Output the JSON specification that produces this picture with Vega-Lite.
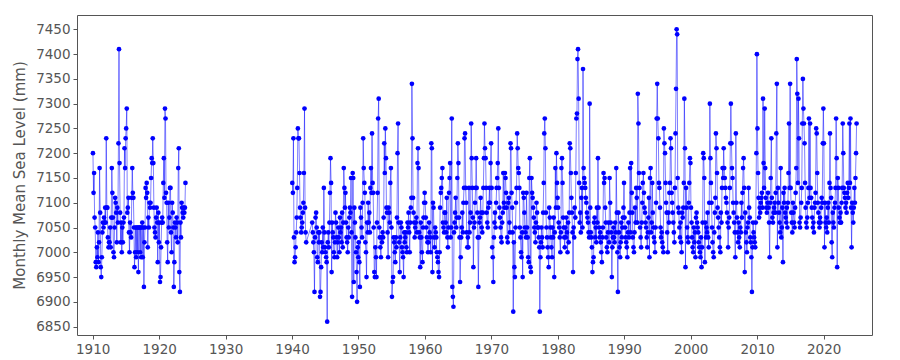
{
"$schema": "https://vega.github.io/schema/vega-lite/v6.json",
"width": 795,
"height": 320,
"autosize": {"type": "none"},
"padding": {"left": 77, "top": 15, "right": 28, "bottom": 25},
"background": "white",
"config": {"view": {"stroke": "#555555", "strokeWidth": 1}, "font": "DejaVu Sans"},
"data": {"values": [
{"t":1910.04,"v":7200},{"t":1910.13,"v":7120},{"t":1910.21,"v":7160},{"t":1910.29,"v":7070},{"t":1910.38,"v":7050},{"t":1910.46,"v":6980},{"t":1910.54,"v":6970},{"t":1910.63,"v":7010},{"t":1910.71,"v":6990},{"t":1910.79,"v":7040},{"t":1910.88,"v":6980},{"t":1910.96,"v":7020},
{"t":1911.04,"v":7170},{"t":1911.13,"v":7080},{"t":1911.21,"v":6970},{"t":1911.29,"v":6950},{"t":1911.38,"v":6990},{"t":1911.46,"v":7040},{"t":1911.54,"v":7060},{"t":1911.63,"v":7050},{"t":1911.71,"v":7070},{"t":1911.79,"v":7060},{"t":1911.88,"v":7090},{"t":1911.96,"v":7060},
{"t":1912.04,"v":7230},{"t":1912.13,"v":7090},{"t":1912.21,"v":7090},{"t":1912.29,"v":7030},{"t":1912.38,"v":7010},{"t":1912.46,"v":7020},{"t":1912.54,"v":7020},{"t":1912.63,"v":7050},{"t":1912.71,"v":7010},{"t":1912.79,"v":7070},{"t":1912.88,"v":7170},{"t":1912.96,"v":7120},
{"t":1913.04,"v":7070},{"t":1913.13,"v":7000},{"t":1913.21,"v":6990},{"t":1913.29,"v":7050},{"t":1913.38,"v":7110},{"t":1913.46,"v":7100},{"t":1913.54,"v":7080},{"t":1913.63,"v":7020},{"t":1913.71,"v":7090},{"t":1913.79,"v":7060},{"t":1913.88,"v":7220},{"t":1913.96,"v":7410},
{"t":1914.04,"v":7180},{"t":1914.13,"v":7080},{"t":1914.21,"v":7020},{"t":1914.29,"v":7060},{"t":1914.38,"v":7000},{"t":1914.46,"v":7050},{"t":1914.54,"v":7020},{"t":1914.63,"v":7060},{"t":1914.71,"v":7070},{"t":1914.79,"v":7210},{"t":1914.88,"v":7170},{"t":1914.96,"v":7230},
{"t":1915.04,"v":7250},{"t":1915.13,"v":7290},{"t":1915.21,"v":7080},{"t":1915.29,"v":7090},{"t":1915.38,"v":7110},{"t":1915.46,"v":7040},{"t":1915.54,"v":7000},{"t":1915.63,"v":7060},{"t":1915.71,"v":7040},{"t":1915.79,"v":7030},{"t":1915.88,"v":7110},{"t":1915.96,"v":7170},
{"t":1916.04,"v":7120},{"t":1916.13,"v":7110},{"t":1916.21,"v":7050},{"t":1916.29,"v":6970},{"t":1916.38,"v":7000},{"t":1916.46,"v":7050},{"t":1916.54,"v":6990},{"t":1916.63,"v":7050},{"t":1916.71,"v":7000},{"t":1916.79,"v":7050},{"t":1916.88,"v":6960},{"t":1916.96,"v":7050},
{"t":1917.04,"v":7050},{"t":1917.13,"v":7000},{"t":1917.21,"v":7050},{"t":1917.29,"v":6990},{"t":1917.38,"v":7050},{"t":1917.46,"v":7060},{"t":1917.54,"v":6990},{"t":1917.63,"v":7050},{"t":1917.71,"v":6930},{"t":1917.79,"v":7020},{"t":1917.88,"v":7050},{"t":1917.96,"v":7130},
{"t":1918.04,"v":7110},{"t":1918.13,"v":7140},{"t":1918.21,"v":7120},{"t":1918.29,"v":7010},{"t":1918.38,"v":7070},{"t":1918.46,"v":7050},{"t":1918.54,"v":7100},{"t":1918.63,"v":7090},{"t":1918.71,"v":7100},{"t":1918.79,"v":7150},{"t":1918.88,"v":7190},{"t":1918.96,"v":7180},
{"t":1919.04,"v":7230},{"t":1919.13,"v":7180},{"t":1919.21,"v":7090},{"t":1919.29,"v":7050},{"t":1919.38,"v":7040},{"t":1919.46,"v":7030},{"t":1919.54,"v":7070},{"t":1919.63,"v":7090},{"t":1919.71,"v":7060},{"t":1919.79,"v":6980},{"t":1919.88,"v":7080},{"t":1919.96,"v":7020},
{"t":1920.04,"v":7060},{"t":1920.13,"v":6940},{"t":1920.21,"v":6950},{"t":1920.29,"v":7010},{"t":1920.38,"v":7060},{"t":1920.46,"v":7070},{"t":1920.54,"v":7060},{"t":1920.63,"v":7140},{"t":1920.71,"v":7190},{"t":1920.79,"v":7110},{"t":1920.88,"v":7290},{"t":1920.96,"v":7270},
{"t":1921.04,"v":7120},{"t":1921.13,"v":7100},{"t":1921.21,"v":7020},{"t":1921.29,"v":6980},{"t":1921.38,"v":7100},{"t":1921.46,"v":7050},{"t":1921.54,"v":7070},{"t":1921.63,"v":7130},{"t":1921.71,"v":7130},{"t":1921.79,"v":7040},{"t":1921.88,"v":7000},{"t":1921.96,"v":7100},
{"t":1922.04,"v":7080},{"t":1922.13,"v":7050},{"t":1922.21,"v":6930},{"t":1922.29,"v":6980},{"t":1922.38,"v":7060},{"t":1922.46,"v":7050},{"t":1922.54,"v":7030},{"t":1922.63,"v":7070},{"t":1922.71,"v":7060},{"t":1922.79,"v":7020},{"t":1922.88,"v":7170},{"t":1922.96,"v":7210},
{"t":1923.04,"v":6960},{"t":1923.13,"v":6920},{"t":1923.21,"v":7060},{"t":1923.29,"v":7030},{"t":1923.38,"v":7100},{"t":1923.46,"v":7090},{"t":1923.54,"v":7080},{"t":1923.63,"v":7070},{"t":1923.71,"v":7090},{"t":1923.79,"v":7080},{"t":1923.88,"v":7090},{"t":1923.96,"v":7140},
{"t":1940.04,"v":7140},{"t":1940.13,"v":7120},{"t":1940.21,"v":7230},{"t":1940.29,"v":7030},{"t":1940.38,"v":6980},{"t":1940.46,"v":6990},{"t":1940.54,"v":7010},{"t":1940.63,"v":7040},{"t":1940.71,"v":7070},{"t":1940.79,"v":7130},{"t":1940.88,"v":7250},{"t":1940.96,"v":7230},
{"t":1941.04,"v":7230},{"t":1941.13,"v":7160},{"t":1941.21,"v":7090},{"t":1941.29,"v":7070},{"t":1941.38,"v":7040},{"t":1941.46,"v":7050},{"t":1941.54,"v":7060},{"t":1941.63,"v":7080},{"t":1941.71,"v":7100},{"t":1941.79,"v":7160},{"t":1941.88,"v":7290},{"t":1941.96,"v":7090},
{"t":1942.04,"v":7040},{"t":1942.13,"v":7020},
{"t":1943.04,"v":7060},{"t":1943.13,"v":7040},{"t":1943.21,"v":7020},{"t":1943.29,"v":7000},{"t":1943.38,"v":6920},{"t":1943.46,"v":7030},{"t":1943.54,"v":7070},{"t":1943.63,"v":7080},{"t":1943.71,"v":7050},{"t":1943.79,"v":6990},{"t":1943.88,"v":6980},{"t":1943.96,"v":7040},
{"t":1944.04,"v":7020},{"t":1944.13,"v":7040},{"t":1944.21,"v":6910},{"t":1944.29,"v":6920},{"t":1944.38,"v":6970},{"t":1944.46,"v":7020},{"t":1944.54,"v":7000},{"t":1944.63,"v":7050},{"t":1944.71,"v":7010},{"t":1944.79,"v":7130},{"t":1944.88,"v":7040},{"t":1944.96,"v":7010},
{"t":1945.04,"v":7000},{"t":1945.13,"v":6990},{"t":1945.21,"v":6980},{"t":1945.29,"v":6860},{"t":1945.38,"v":7020},{"t":1945.46,"v":7040},{"t":1945.54,"v":7010},{"t":1945.63,"v":7060},{"t":1945.71,"v":7120},{"t":1945.79,"v":7190},{"t":1945.88,"v":7140},{"t":1945.96,"v":6960},
{"t":1946.04,"v":7060},{"t":1946.13,"v":7040},{"t":1946.21,"v":7030},{"t":1946.29,"v":7000},{"t":1946.38,"v":6990},{"t":1946.46,"v":7020},{"t":1946.54,"v":7080},{"t":1946.63,"v":7060},{"t":1946.71,"v":7030},{"t":1946.79,"v":6990},{"t":1946.88,"v":7020},{"t":1946.96,"v":7050},
{"t":1947.04,"v":7030},{"t":1947.13,"v":7000},{"t":1947.21,"v":7070},{"t":1947.29,"v":7040},{"t":1947.38,"v":7050},{"t":1947.46,"v":7020},{"t":1947.54,"v":7080},{"t":1947.63,"v":7010},{"t":1947.71,"v":7060},{"t":1947.79,"v":7170},{"t":1947.88,"v":7130},{"t":1947.96,"v":7090},
{"t":1948.04,"v":7120},{"t":1948.13,"v":7060},{"t":1948.21,"v":7030},{"t":1948.29,"v":7020},{"t":1948.38,"v":7000},{"t":1948.46,"v":7050},{"t":1948.54,"v":7030},{"t":1948.63,"v":7070},{"t":1948.71,"v":7090},{"t":1948.79,"v":7080},{"t":1948.88,"v":7150},{"t":1948.96,"v":7040},
{"t":1949.04,"v":6910},{"t":1949.13,"v":7160},{"t":1949.21,"v":7150},{"t":1949.29,"v":6940},{"t":1949.38,"v":7090},{"t":1949.46,"v":7060},{"t":1949.54,"v":7030},{"t":1949.63,"v":7000},{"t":1949.71,"v":6960},{"t":1949.79,"v":6900},{"t":1949.88,"v":7010},{"t":1949.96,"v":6990},
{"t":1950.04,"v":7020},{"t":1950.13,"v":6980},{"t":1950.21,"v":6930},{"t":1950.29,"v":7090},{"t":1950.38,"v":7070},{"t":1950.46,"v":7050},{"t":1950.54,"v":7030},{"t":1950.63,"v":7100},{"t":1950.71,"v":7230},{"t":1950.79,"v":7170},{"t":1950.88,"v":7140},{"t":1950.96,"v":7120},
{"t":1951.04,"v":7020},{"t":1951.13,"v":7000},{"t":1951.21,"v":6950},{"t":1951.29,"v":7060},{"t":1951.38,"v":7040},{"t":1951.46,"v":7100},{"t":1951.54,"v":7060},{"t":1951.63,"v":7080},{"t":1951.71,"v":7040},{"t":1951.79,"v":7130},{"t":1951.88,"v":7170},{"t":1951.96,"v":7120},
{"t":1952.04,"v":7240},{"t":1952.13,"v":7140},{"t":1952.21,"v":7120},{"t":1952.29,"v":7050},{"t":1952.38,"v":6960},{"t":1952.46,"v":6950},{"t":1952.54,"v":7010},{"t":1952.63,"v":6990},{"t":1952.71,"v":6950},{"t":1952.79,"v":7060},{"t":1952.88,"v":7120},{"t":1952.96,"v":7270},
{"t":1953.04,"v":7310},{"t":1953.13,"v":7050},{"t":1953.21,"v":7030},{"t":1953.29,"v":7010},{"t":1953.38,"v":6990},{"t":1953.46,"v":7030},{"t":1953.54,"v":7020},{"t":1953.63,"v":7040},{"t":1953.71,"v":7030},{"t":1953.79,"v":7070},{"t":1953.88,"v":7220},{"t":1953.96,"v":7160},
{"t":1954.04,"v":7250},{"t":1954.13,"v":7190},{"t":1954.21,"v":7090},{"t":1954.29,"v":7080},{"t":1954.38,"v":7040},{"t":1954.46,"v":6990},{"t":1954.54,"v":7090},{"t":1954.63,"v":7080},{"t":1954.71,"v":7060},{"t":1954.79,"v":7140},{"t":1954.88,"v":7170},{"t":1954.96,"v":7050},
{"t":1955.04,"v":6910},{"t":1955.13,"v":6940},{"t":1955.21,"v":6950},{"t":1955.29,"v":7030},{"t":1955.38,"v":7020},{"t":1955.46,"v":7000},{"t":1955.54,"v":6980},{"t":1955.63,"v":7030},{"t":1955.71,"v":7010},{"t":1955.79,"v":7070},{"t":1955.88,"v":7200},{"t":1955.96,"v":7260},
{"t":1956.04,"v":7060},{"t":1956.13,"v":7020},{"t":1956.21,"v":6960},{"t":1956.29,"v":7030},{"t":1956.38,"v":7060},{"t":1956.46,"v":7050},{"t":1956.54,"v":7010},{"t":1956.63,"v":7000},{"t":1956.71,"v":6990},{"t":1956.79,"v":6950},{"t":1956.88,"v":7040},{"t":1956.96,"v":7020},
{"t":1957.04,"v":7030},{"t":1957.13,"v":7040},{"t":1957.21,"v":7010},{"t":1957.29,"v":7000},{"t":1957.38,"v":7060},{"t":1957.46,"v":7050},{"t":1957.54,"v":7080},{"t":1957.63,"v":7040},{"t":1957.71,"v":7000},{"t":1957.79,"v":7060},{"t":1957.88,"v":7090},{"t":1957.96,"v":7110},
{"t":1958.04,"v":7340},{"t":1958.13,"v":7230},{"t":1958.21,"v":7110},{"t":1958.29,"v":7080},{"t":1958.38,"v":7060},{"t":1958.46,"v":7030},{"t":1958.54,"v":7050},{"t":1958.63,"v":7060},{"t":1958.71,"v":7070},{"t":1958.79,"v":7040},{"t":1958.88,"v":7180},{"t":1958.96,"v":7210},
{"t":1959.04,"v":7170},{"t":1959.13,"v":7040},{"t":1959.21,"v":7030},{"t":1959.29,"v":6970},{"t":1959.38,"v":7060},{"t":1959.46,"v":7030},{"t":1959.54,"v":7000},{"t":1959.63,"v":6980},{"t":1959.71,"v":7050},{"t":1959.79,"v":7070},{"t":1959.88,"v":7100},{"t":1959.96,"v":7120},
{"t":1960.04,"v":7100},{"t":1960.13,"v":7070},{"t":1960.21,"v":7050},{"t":1960.29,"v":7030},{"t":1960.38,"v":7020},{"t":1960.46,"v":7000},{"t":1960.54,"v":7020},{"t":1960.63,"v":7060},{"t":1960.71,"v":7040},{"t":1960.79,"v":7030},{"t":1960.88,"v":7000},{"t":1960.96,"v":7220},
{"t":1961.04,"v":7210},{"t":1961.13,"v":6960},{"t":1961.21,"v":7100},{"t":1961.29,"v":7090},{"t":1961.38,"v":7030},{"t":1961.46,"v":7010},{"t":1961.54,"v":7050},{"t":1961.63,"v":7040},{"t":1961.71,"v":7030},{"t":1961.79,"v":7000},{"t":1961.88,"v":6990},{"t":1961.96,"v":6980},
{"t":1962.04,"v":6960},{"t":1962.13,"v":6950},{"t":1962.21,"v":7000},{"t":1962.29,"v":7090},{"t":1962.38,"v":7120},{"t":1962.46,"v":7130},{"t":1962.54,"v":7150},{"t":1962.63,"v":7170},{"t":1962.71,"v":7060},{"t":1962.79,"v":7050},{"t":1962.88,"v":7040},{"t":1962.96,"v":7080},
{"t":1963.04,"v":7080},{"t":1963.13,"v":7060},{"t":1963.21,"v":7040},{"t":1963.29,"v":7110},{"t":1963.38,"v":7030},{"t":1963.46,"v":7010},{"t":1963.54,"v":7050},{"t":1963.63,"v":7120},{"t":1963.71,"v":7150},{"t":1963.79,"v":7180},{"t":1963.88,"v":7030},{"t":1963.96,"v":7050},
{"t":1964.04,"v":7270},{"t":1964.13,"v":6930},{"t":1964.21,"v":6910},{"t":1964.29,"v":6890},{"t":1964.38,"v":7040},{"t":1964.46,"v":7060},{"t":1964.54,"v":7080},{"t":1964.63,"v":7110},{"t":1964.71,"v":7050},{"t":1964.79,"v":7070},{"t":1964.88,"v":7150},{"t":1964.96,"v":7220},
{"t":1965.04,"v":7180},{"t":1965.13,"v":7070},{"t":1965.21,"v":7030},{"t":1965.29,"v":6940},{"t":1965.38,"v":6990},{"t":1965.46,"v":7030},{"t":1965.54,"v":7050},{"t":1965.63,"v":7080},{"t":1965.71,"v":7040},{"t":1965.79,"v":7100},{"t":1965.88,"v":7130},{"t":1965.96,"v":7230},
{"t":1966.04,"v":7240},{"t":1966.13,"v":7130},{"t":1966.21,"v":7100},{"t":1966.29,"v":7040},{"t":1966.38,"v":7010},{"t":1966.46,"v":7030},{"t":1966.54,"v":7010},{"t":1966.63,"v":7130},{"t":1966.71,"v":7040},{"t":1966.79,"v":7060},{"t":1966.88,"v":7080},{"t":1966.96,"v":7260},
{"t":1967.04,"v":7190},{"t":1967.13,"v":7130},{"t":1967.21,"v":7070},{"t":1967.29,"v":6970},{"t":1967.38,"v":7050},{"t":1967.46,"v":7060},{"t":1967.54,"v":7100},{"t":1967.63,"v":7130},{"t":1967.71,"v":7190},{"t":1967.79,"v":7130},{"t":1967.88,"v":7080},{"t":1967.96,"v":7030},
{"t":1968.04,"v":6930},{"t":1968.13,"v":7030},{"t":1968.21,"v":7060},{"t":1968.29,"v":7070},{"t":1968.38,"v":7110},{"t":1968.46,"v":7080},{"t":1968.54,"v":7050},{"t":1968.63,"v":7040},{"t":1968.71,"v":7080},{"t":1968.79,"v":7130},{"t":1968.88,"v":7190},{"t":1968.96,"v":7260},
{"t":1969.04,"v":7210},{"t":1969.13,"v":7190},{"t":1969.21,"v":7130},{"t":1969.29,"v":7080},{"t":1969.38,"v":7060},{"t":1969.46,"v":7050},{"t":1969.54,"v":7090},{"t":1969.63,"v":7100},{"t":1969.71,"v":7130},{"t":1969.79,"v":7100},{"t":1969.88,"v":7180},{"t":1969.96,"v":7220},
{"t":1970.04,"v":7130},{"t":1970.13,"v":7010},{"t":1970.21,"v":6990},{"t":1970.29,"v":6940},{"t":1970.38,"v":7030},{"t":1970.46,"v":7060},{"t":1970.54,"v":7080},{"t":1970.63,"v":7050},{"t":1970.71,"v":7100},{"t":1970.79,"v":7130},{"t":1970.88,"v":7150},{"t":1970.96,"v":7180},
{"t":1971.04,"v":7250},{"t":1971.13,"v":7130},{"t":1971.21,"v":7090},{"t":1971.29,"v":7070},{"t":1971.38,"v":7050},{"t":1971.46,"v":7030},{"t":1971.54,"v":7020},{"t":1971.63,"v":7060},{"t":1971.71,"v":7080},{"t":1971.79,"v":7160},{"t":1971.88,"v":7100},{"t":1971.96,"v":7090},
{"t":1972.04,"v":7160},{"t":1972.13,"v":7150},{"t":1972.21,"v":7120},{"t":1972.29,"v":7090},{"t":1972.38,"v":7030},{"t":1972.46,"v":7020},{"t":1972.54,"v":7100},{"t":1972.63,"v":7110},{"t":1972.71,"v":7060},{"t":1972.79,"v":7040},{"t":1972.88,"v":7220},{"t":1972.96,"v":7210},
{"t":1973.04,"v":7120},{"t":1973.13,"v":7090},{"t":1973.21,"v":7040},{"t":1973.29,"v":6880},{"t":1973.38,"v":7020},{"t":1973.46,"v":6970},{"t":1973.54,"v":6950},{"t":1973.63,"v":7050},{"t":1973.71,"v":7100},{"t":1973.79,"v":7130},{"t":1973.88,"v":7240},{"t":1973.96,"v":7210},
{"t":1974.04,"v":7170},{"t":1974.13,"v":7160},{"t":1974.21,"v":7130},{"t":1974.29,"v":7050},{"t":1974.38,"v":7030},{"t":1974.46,"v":7000},{"t":1974.54,"v":6990},{"t":1974.63,"v":7040},{"t":1974.71,"v":6950},{"t":1974.79,"v":7120},{"t":1974.88,"v":7110},{"t":1974.96,"v":7080},
{"t":1975.04,"v":7050},{"t":1975.13,"v":7040},{"t":1975.21,"v":7030},{"t":1975.29,"v":7120},{"t":1975.38,"v":7050},{"t":1975.46,"v":7030},{"t":1975.54,"v":6990},{"t":1975.63,"v":6980},{"t":1975.71,"v":7150},{"t":1975.79,"v":7190},{"t":1975.88,"v":6970},{"t":1975.96,"v":6960},
{"t":1976.04,"v":7150},{"t":1976.13,"v":7120},{"t":1976.21,"v":7110},{"t":1976.29,"v":7090},{"t":1976.38,"v":7070},{"t":1976.46,"v":7050},{"t":1976.54,"v":7040},{"t":1976.63,"v":7020},{"t":1976.71,"v":7060},{"t":1976.79,"v":7100},{"t":1976.88,"v":7080},{"t":1976.96,"v":7050},
{"t":1977.04,"v":7050},{"t":1977.13,"v":7030},{"t":1977.21,"v":7010},{"t":1977.29,"v":6880},{"t":1977.38,"v":6990},{"t":1977.46,"v":7020},{"t":1977.54,"v":7050},{"t":1977.63,"v":7030},{"t":1977.71,"v":7010},{"t":1977.79,"v":7080},{"t":1977.88,"v":7140},{"t":1977.96,"v":7240},
{"t":1978.04,"v":7270},{"t":1978.13,"v":7210},{"t":1978.21,"v":7080},{"t":1978.29,"v":7050},{"t":1978.38,"v":7030},{"t":1978.46,"v":7010},{"t":1978.54,"v":6990},{"t":1978.63,"v":6970},{"t":1978.71,"v":7090},{"t":1978.79,"v":7070},{"t":1978.88,"v":7050},{"t":1978.96,"v":7030},
{"t":1979.04,"v":7010},{"t":1979.13,"v":6990},{"t":1979.21,"v":7050},{"t":1979.29,"v":7030},{"t":1979.38,"v":7070},{"t":1979.46,"v":6950},{"t":1979.54,"v":7040},{"t":1979.63,"v":7170},{"t":1979.71,"v":7090},{"t":1979.79,"v":7200},{"t":1979.88,"v":7140},{"t":1979.96,"v":7110},
{"t":1980.04,"v":7090},{"t":1980.13,"v":7060},{"t":1980.21,"v":7050},{"t":1980.29,"v":7030},{"t":1980.38,"v":7000},{"t":1980.46,"v":7040},{"t":1980.54,"v":7170},{"t":1980.63,"v":7190},{"t":1980.71,"v":7140},{"t":1980.79,"v":7070},{"t":1980.88,"v":7050},{"t":1980.96,"v":7030},
{"t":1981.04,"v":7010},{"t":1981.13,"v":7050},{"t":1981.21,"v":7030},{"t":1981.29,"v":7070},{"t":1981.38,"v":7040},{"t":1981.46,"v":7000},{"t":1981.54,"v":7060},{"t":1981.63,"v":7020},{"t":1981.71,"v":7080},{"t":1981.79,"v":7220},{"t":1981.88,"v":7210},{"t":1981.96,"v":7160},
{"t":1982.04,"v":7110},{"t":1982.13,"v":7080},{"t":1982.21,"v":7040},{"t":1982.29,"v":6960},{"t":1982.38,"v":7050},{"t":1982.46,"v":7030},{"t":1982.54,"v":7090},{"t":1982.63,"v":7070},{"t":1982.71,"v":7160},{"t":1982.79,"v":7270},{"t":1982.88,"v":7280},{"t":1982.96,"v":7390},
{"t":1983.04,"v":7410},{"t":1983.13,"v":7310},{"t":1983.21,"v":7140},{"t":1983.29,"v":7060},{"t":1983.38,"v":7080},{"t":1983.46,"v":7040},{"t":1983.54,"v":7110},{"t":1983.63,"v":7130},{"t":1983.71,"v":7050},{"t":1983.79,"v":7370},{"t":1983.88,"v":7170},{"t":1983.96,"v":7150},
{"t":1984.04,"v":7140},{"t":1984.13,"v":7130},{"t":1984.21,"v":7110},{"t":1984.29,"v":7100},{"t":1984.38,"v":7080},{"t":1984.46,"v":7070},{"t":1984.54,"v":7060},{"t":1984.63,"v":7040},{"t":1984.71,"v":7030},{"t":1984.79,"v":7300},{"t":1984.88,"v":7090},{"t":1984.96,"v":7040},
{"t":1985.04,"v":7030},{"t":1985.13,"v":7010},{"t":1985.21,"v":6960},{"t":1985.29,"v":6980},{"t":1985.38,"v":6990},{"t":1985.46,"v":7060},{"t":1985.54,"v":7070},{"t":1985.63,"v":7030},{"t":1985.71,"v":7050},{"t":1985.79,"v":7020},{"t":1985.88,"v":7090},{"t":1985.96,"v":7060},
{"t":1986.04,"v":7190},{"t":1986.13,"v":7090},{"t":1986.21,"v":7050},{"t":1986.29,"v":7030},{"t":1986.38,"v":7040},{"t":1986.46,"v":7020},{"t":1986.54,"v":7000},{"t":1986.63,"v":6980},{"t":1986.71,"v":7030},{"t":1986.79,"v":7050},{"t":1986.88,"v":7160},{"t":1986.96,"v":7140},
{"t":1987.04,"v":7150},{"t":1987.13,"v":7090},{"t":1987.21,"v":7060},{"t":1987.29,"v":7030},{"t":1987.38,"v":7010},{"t":1987.46,"v":7000},{"t":1987.54,"v":7040},{"t":1987.63,"v":7060},{"t":1987.71,"v":7020},{"t":1987.79,"v":7150},{"t":1987.88,"v":7100},{"t":1987.96,"v":7060},
{"t":1988.04,"v":7040},{"t":1988.13,"v":6950},{"t":1988.21,"v":7010},{"t":1988.29,"v":7030},{"t":1988.38,"v":7050},{"t":1988.46,"v":7030},{"t":1988.54,"v":7020},{"t":1988.63,"v":7060},{"t":1988.71,"v":7040},{"t":1988.79,"v":7170},{"t":1988.88,"v":7080},{"t":1988.96,"v":7000},
{"t":1989.04,"v":6920},{"t":1989.13,"v":7080},{"t":1989.21,"v":7040},{"t":1989.29,"v":7010},{"t":1989.38,"v":6990},{"t":1989.46,"v":7020},{"t":1989.54,"v":7060},{"t":1989.63,"v":7030},{"t":1989.71,"v":7050},{"t":1989.79,"v":7070},{"t":1989.88,"v":7090},{"t":1989.96,"v":7140},
{"t":1990.04,"v":7070},{"t":1990.13,"v":7050},{"t":1990.21,"v":7030},{"t":1990.29,"v":7020},{"t":1990.38,"v":7010},{"t":1990.46,"v":6990},{"t":1990.54,"v":7040},{"t":1990.63,"v":7060},{"t":1990.71,"v":7030},{"t":1990.79,"v":7080},{"t":1990.88,"v":7170},{"t":1990.96,"v":7040},
{"t":1991.04,"v":7180},{"t":1991.13,"v":7120},{"t":1991.21,"v":7080},{"t":1991.29,"v":7030},{"t":1991.38,"v":7010},{"t":1991.46,"v":7000},{"t":1991.54,"v":7040},{"t":1991.63,"v":7090},{"t":1991.71,"v":7060},{"t":1991.79,"v":7130},{"t":1991.88,"v":7110},{"t":1991.96,"v":7060},
{"t":1992.04,"v":7320},{"t":1992.13,"v":7260},{"t":1992.21,"v":7160},{"t":1992.29,"v":7130},{"t":1992.38,"v":7050},{"t":1992.46,"v":7030},{"t":1992.54,"v":7010},{"t":1992.63,"v":7060},{"t":1992.71,"v":7100},{"t":1992.79,"v":7140},{"t":1992.88,"v":7160},{"t":1992.96,"v":7120},
{"t":1993.04,"v":7090},{"t":1993.13,"v":7080},{"t":1993.21,"v":7060},{"t":1993.29,"v":7050},{"t":1993.38,"v":7030},{"t":1993.46,"v":7010},{"t":1993.54,"v":7040},{"t":1993.63,"v":7070},{"t":1993.71,"v":7110},{"t":1993.79,"v":6990},{"t":1993.88,"v":7150},{"t":1993.96,"v":7170},
{"t":1994.04,"v":7040},{"t":1994.13,"v":7060},{"t":1994.21,"v":7140},{"t":1994.29,"v":7080},{"t":1994.38,"v":7050},{"t":1994.46,"v":7030},{"t":1994.54,"v":7020},{"t":1994.63,"v":7000},{"t":1994.71,"v":7050},{"t":1994.79,"v":7100},{"t":1994.88,"v":7270},{"t":1994.96,"v":7340},
{"t":1995.04,"v":7270},{"t":1995.13,"v":7230},{"t":1995.21,"v":7140},{"t":1995.29,"v":7130},{"t":1995.38,"v":7090},{"t":1995.46,"v":7050},{"t":1995.54,"v":7030},{"t":1995.63,"v":7040},{"t":1995.71,"v":7020},{"t":1995.79,"v":7010},{"t":1995.88,"v":7000},{"t":1995.96,"v":7250},
{"t":1996.04,"v":7220},{"t":1996.13,"v":7200},{"t":1996.21,"v":7140},{"t":1996.29,"v":7100},{"t":1996.38,"v":7080},{"t":1996.46,"v":7040},{"t":1996.54,"v":7000},{"t":1996.63,"v":7080},{"t":1996.71,"v":7060},{"t":1996.79,"v":7120},{"t":1996.88,"v":7140},{"t":1996.96,"v":7230},
{"t":1997.04,"v":7210},{"t":1997.13,"v":7120},{"t":1997.21,"v":7100},{"t":1997.29,"v":7080},{"t":1997.38,"v":7060},{"t":1997.46,"v":7040},{"t":1997.54,"v":7020},{"t":1997.63,"v":7130},{"t":1997.71,"v":7240},{"t":1997.79,"v":7330},{"t":1997.88,"v":7450},{"t":1997.96,"v":7440},
{"t":1998.04,"v":7150},{"t":1998.13,"v":7090},{"t":1998.21,"v":7080},{"t":1998.29,"v":7050},{"t":1998.38,"v":7030},{"t":1998.46,"v":7060},{"t":1998.54,"v":7020},{"t":1998.63,"v":7000},{"t":1998.71,"v":7080},{"t":1998.79,"v":7070},{"t":1998.88,"v":7090},{"t":1998.96,"v":7140},
{"t":1999.04,"v":7310},{"t":1999.13,"v":7210},{"t":1999.21,"v":6970},{"t":1999.29,"v":7130},{"t":1999.38,"v":7090},{"t":1999.46,"v":7050},{"t":1999.54,"v":7030},{"t":1999.63,"v":7020},{"t":1999.71,"v":7100},{"t":1999.79,"v":7140},{"t":1999.88,"v":7190},{"t":1999.96,"v":7180},
{"t":2000.04,"v":7090},{"t":2000.13,"v":7060},{"t":2000.21,"v":7030},{"t":2000.29,"v":7010},{"t":2000.38,"v":7000},{"t":2000.46,"v":7050},{"t":2000.54,"v":7020},{"t":2000.63,"v":7040},{"t":2000.71,"v":6990},{"t":2000.79,"v":7070},{"t":2000.88,"v":7080},{"t":2000.96,"v":7060},
{"t":2001.04,"v":7050},{"t":2001.13,"v":7040},{"t":2001.21,"v":7020},{"t":2001.29,"v":7010},{"t":2001.38,"v":7000},{"t":2001.46,"v":6990},{"t":2001.54,"v":7030},{"t":2001.63,"v":6970},{"t":2001.71,"v":7010},{"t":2001.79,"v":7060},{"t":2001.88,"v":7200},{"t":2001.96,"v":7190},
{"t":2002.04,"v":7150},{"t":2002.13,"v":6980},{"t":2002.21,"v":7060},{"t":2002.29,"v":7030},{"t":2002.38,"v":7050},{"t":2002.46,"v":7040},{"t":2002.54,"v":7080},{"t":2002.63,"v":7030},{"t":2002.71,"v":7010},{"t":2002.79,"v":7100},{"t":2002.88,"v":7300},{"t":2002.96,"v":7190},
{"t":2003.04,"v":7140},{"t":2003.13,"v":7100},{"t":2003.21,"v":7050},{"t":2003.29,"v":7020},{"t":2003.38,"v":7000},{"t":2003.46,"v":6990},{"t":2003.54,"v":7040},{"t":2003.63,"v":7080},{"t":2003.71,"v":7110},{"t":2003.79,"v":7240},{"t":2003.88,"v":7210},{"t":2003.96,"v":7160},
{"t":2004.04,"v":7090},{"t":2004.13,"v":7070},{"t":2004.21,"v":7050},{"t":2004.29,"v":7030},{"t":2004.38,"v":7010},{"t":2004.46,"v":7000},{"t":2004.54,"v":7080},{"t":2004.63,"v":7060},{"t":2004.71,"v":7130},{"t":2004.79,"v":7170},{"t":2004.88,"v":7150},{"t":2004.96,"v":7210},
{"t":2005.04,"v":7170},{"t":2005.13,"v":7150},{"t":2005.21,"v":7130},{"t":2005.29,"v":7110},{"t":2005.38,"v":7100},{"t":2005.46,"v":7080},{"t":2005.54,"v":7060},{"t":2005.63,"v":7010},{"t":2005.71,"v":7050},{"t":2005.79,"v":7070},{"t":2005.88,"v":7130},{"t":2005.96,"v":7220},
{"t":2006.04,"v":7300},{"t":2006.13,"v":7220},{"t":2006.21,"v":7170},{"t":2006.29,"v":7150},{"t":2006.38,"v":7100},{"t":2006.46,"v":7080},{"t":2006.54,"v":7060},{"t":2006.63,"v":7040},{"t":2006.71,"v":6990},{"t":2006.79,"v":7240},{"t":2006.88,"v":7100},{"t":2006.96,"v":7070},
{"t":2007.04,"v":7040},{"t":2007.13,"v":7020},{"t":2007.21,"v":7060},{"t":2007.29,"v":7030},{"t":2007.38,"v":7010},{"t":2007.46,"v":7050},{"t":2007.54,"v":7040},{"t":2007.63,"v":7100},{"t":2007.71,"v":7070},{"t":2007.79,"v":7120},{"t":2007.88,"v":7170},{"t":2007.96,"v":7190},
{"t":2008.04,"v":7130},{"t":2008.13,"v":6960},{"t":2008.21,"v":7080},{"t":2008.29,"v":7040},{"t":2008.38,"v":7020},{"t":2008.46,"v":7000},{"t":2008.54,"v":7050},{"t":2008.63,"v":7060},{"t":2008.71,"v":7130},{"t":2008.79,"v":7090},{"t":2008.88,"v":7070},{"t":2008.96,"v":7030},
{"t":2009.04,"v":7020},{"t":2009.13,"v":6990},{"t":2009.21,"v":6920},{"t":2009.29,"v":7010},{"t":2009.38,"v":7060},{"t":2009.46,"v":7040},{"t":2009.54,"v":7030},{"t":2009.63,"v":7020},{"t":2009.71,"v":7010},{"t":2009.79,"v":7060},{"t":2009.88,"v":7200},{"t":2009.96,"v":7400},
{"t":2010.04,"v":7250},{"t":2010.13,"v":7160},{"t":2010.21,"v":7110},{"t":2010.29,"v":7070},{"t":2010.38,"v":7090},{"t":2010.46,"v":7080},{"t":2010.54,"v":7100},{"t":2010.63,"v":7110},{"t":2010.71,"v":7120},{"t":2010.79,"v":7090},{"t":2010.88,"v":7310},{"t":2010.96,"v":7180},
{"t":2011.04,"v":7130},{"t":2011.13,"v":7290},{"t":2011.21,"v":7170},{"t":2011.29,"v":7110},{"t":2011.38,"v":7090},{"t":2011.46,"v":7080},{"t":2011.54,"v":7100},{"t":2011.63,"v":7120},{"t":2011.71,"v":7090},{"t":2011.79,"v":7060},{"t":2011.88,"v":6990},{"t":2011.96,"v":7100},
{"t":2012.04,"v":7150},{"t":2012.13,"v":7230},{"t":2012.21,"v":7110},{"t":2012.29,"v":7070},{"t":2012.38,"v":7060},{"t":2012.46,"v":7080},{"t":2012.54,"v":7090},{"t":2012.63,"v":7100},{"t":2012.71,"v":7080},{"t":2012.79,"v":7120},{"t":2012.88,"v":7240},{"t":2012.96,"v":7340},
{"t":2013.04,"v":7010},{"t":2013.13,"v":7130},{"t":2013.21,"v":7100},{"t":2013.29,"v":7080},{"t":2013.38,"v":7060},{"t":2013.46,"v":7040},{"t":2013.54,"v":7170},{"t":2013.63,"v":7030},{"t":2013.71,"v":7050},{"t":2013.79,"v":7090},{"t":2013.88,"v":6980},{"t":2013.96,"v":7120},
{"t":2014.04,"v":7100},{"t":2014.13,"v":7130},{"t":2014.21,"v":7080},{"t":2014.29,"v":7070},{"t":2014.38,"v":7060},{"t":2014.46,"v":7090},{"t":2014.54,"v":7050},{"t":2014.63,"v":7100},{"t":2014.71,"v":7160},{"t":2014.79,"v":7260},{"t":2014.88,"v":7130},{"t":2014.96,"v":7340},
{"t":2015.04,"v":7130},{"t":2015.13,"v":7080},{"t":2015.21,"v":7060},{"t":2015.29,"v":7040},{"t":2015.38,"v":7100},{"t":2015.46,"v":7080},{"t":2015.54,"v":7060},{"t":2015.63,"v":7050},{"t":2015.71,"v":7090},{"t":2015.79,"v":7120},{"t":2015.88,"v":7170},{"t":2015.96,"v":7390},
{"t":2016.04,"v":7320},{"t":2016.13,"v":7140},{"t":2016.21,"v":7310},{"t":2016.29,"v":7230},{"t":2016.38,"v":7060},{"t":2016.46,"v":7050},{"t":2016.54,"v":7070},{"t":2016.63,"v":7100},{"t":2016.71,"v":7130},{"t":2016.79,"v":7260},{"t":2016.88,"v":7350},{"t":2016.96,"v":7290},
{"t":2017.04,"v":7260},{"t":2017.13,"v":7220},{"t":2017.21,"v":7140},{"t":2017.29,"v":7090},{"t":2017.38,"v":7060},{"t":2017.46,"v":7050},{"t":2017.54,"v":7070},{"t":2017.63,"v":7100},{"t":2017.71,"v":7130},{"t":2017.79,"v":7270},{"t":2017.88,"v":7110},{"t":2017.96,"v":7260},
{"t":2018.04,"v":7130},{"t":2018.13,"v":7110},{"t":2018.21,"v":7090},{"t":2018.29,"v":7070},{"t":2018.38,"v":7050},{"t":2018.46,"v":7060},{"t":2018.54,"v":7040},{"t":2018.63,"v":7090},{"t":2018.71,"v":7100},{"t":2018.79,"v":7120},{"t":2018.88,"v":7250},{"t":2018.96,"v":7240},
{"t":2019.04,"v":7160},{"t":2019.13,"v":7100},{"t":2019.21,"v":7080},{"t":2019.29,"v":7060},{"t":2019.38,"v":7050},{"t":2019.46,"v":7070},{"t":2019.54,"v":7060},{"t":2019.63,"v":7090},{"t":2019.71,"v":7110},{"t":2019.79,"v":7100},{"t":2019.88,"v":7220},{"t":2019.96,"v":7290},
{"t":2020.04,"v":7220},{"t":2020.13,"v":7010},{"t":2020.21,"v":7100},{"t":2020.29,"v":7060},{"t":2020.38,"v":7050},{"t":2020.46,"v":7070},{"t":2020.54,"v":7040},{"t":2020.63,"v":7090},{"t":2020.71,"v":7100},{"t":2020.79,"v":7060},{"t":2020.88,"v":7140},{"t":2020.96,"v":7240},
{"t":2021.04,"v":7130},{"t":2021.13,"v":7110},{"t":2021.21,"v":7020},{"t":2021.29,"v":6990},{"t":2021.38,"v":7080},{"t":2021.46,"v":7060},{"t":2021.54,"v":7050},{"t":2021.63,"v":7090},{"t":2021.71,"v":7100},{"t":2021.79,"v":7130},{"t":2021.88,"v":7270},{"t":2021.96,"v":7190},
{"t":2022.04,"v":6970},{"t":2022.13,"v":7150},{"t":2022.21,"v":7130},{"t":2022.29,"v":7090},{"t":2022.38,"v":7070},{"t":2022.46,"v":7060},{"t":2022.54,"v":7080},{"t":2022.63,"v":7060},{"t":2022.71,"v":7100},{"t":2022.79,"v":7130},{"t":2022.88,"v":7260},{"t":2022.96,"v":7200},
{"t":2023.04,"v":7130},{"t":2023.13,"v":7120},{"t":2023.21,"v":7110},{"t":2023.29,"v":7090},{"t":2023.38,"v":7100},{"t":2023.46,"v":7080},{"t":2023.54,"v":7120},{"t":2023.63,"v":7140},{"t":2023.71,"v":7110},{"t":2023.79,"v":7130},{"t":2023.88,"v":7260},{"t":2023.96,"v":7140},
{"t":2024.04,"v":7270},{"t":2024.13,"v":7090},{"t":2024.21,"v":7010},{"t":2024.29,"v":7100},{"t":2024.38,"v":7080},{"t":2024.46,"v":7060},{"t":2024.54,"v":7090},{"t":2024.63,"v":7130},{"t":2024.71,"v":7100},{"t":2024.79,"v":7150},{"t":2024.88,"v":7200},{"t":2024.96,"v":7260}
]},
"encoding": {
  "x": {"field": "t", "type": "quantitative",
    "scale": {"domain": [1907.64, 2027.28], "nice": false, "zero": false},
    "axis": {"values": [1910, 1920, 1930, 1940, 1950, 1960, 1970, 1980, 1990, 2000, 2010, 2020], "format": "d", "title": null, "grid": false, "domain": false, "ticks": true, "tickColor": "#555555", "tickSize": 4, "labelColor": "#555555", "labelFontSize": 13.5, "labelFont": "DejaVu Sans", "labelPadding": 3, "labelFlush": false}},
  "y": {"field": "v", "type": "quantitative",
    "scale": {"domain": [6833, 7479], "nice": false, "zero": false},
    "axis": {"values": [6850, 6900, 6950, 7000, 7050, 7100, 7150, 7200, 7250, 7300, 7350, 7400, 7450], "format": "d", "title": "Monthly Mean Sea Level (mm)", "titleFont": "DejaVu Sans", "titleFontSize": 15, "titleFontWeight": "normal", "titleColor": "#555555", "titlePadding": 8, "grid": false, "domain": false, "tickColor": "#555555", "tickSize": 4, "labelColor": "#555555", "labelFontSize": 13.5, "labelFont": "DejaVu Sans", "labelPadding": 3, "labelFlush": false}}
},
"layer": [
  {"transform": [{"filter": "datum.t < 1930"}], "mark": {"type": "line", "color": "#0000ff", "opacity": 0.5, "strokeWidth": 1}, "encoding": {}},
  {"transform": [{"filter": "datum.t > 1930"}], "mark": {"type": "line", "color": "#0000ff", "opacity": 0.5, "strokeWidth": 1}, "encoding": {}},
  {"mark": {"type": "point", "filled": true, "color": "#0000ff", "opacity": 1, "size": 22}}
]
}
